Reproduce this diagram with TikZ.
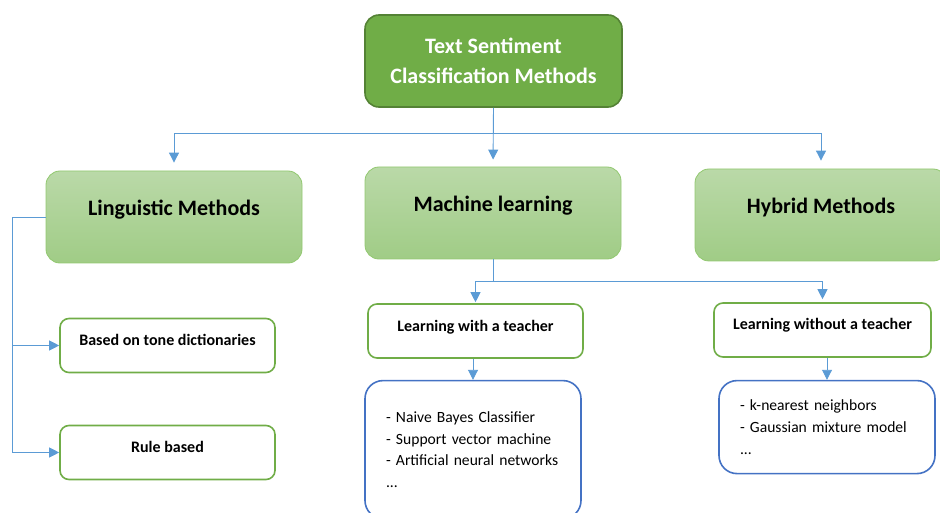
\documentclass[tikz,border=0pt]{standalone}
\usepackage{fontspec}
\setmainfont{Carlito}
\definecolor{rootgreen}{RGB}{112,173,71}
\definecolor{rootedge}{RGB}{84,130,53}
\definecolor{methtop}{RGB}{186,217,168}
\definecolor{methbot}{RGB}{160,204,134}
\definecolor{methedge}{RGB}{146,200,112}
\definecolor{subedge}{RGB}{112,173,71}
\definecolor{listedge}{RGB}{68,114,196}
\definecolor{linkblue}{RGB}{91,155,213}
\usetikzlibrary{arrows.meta, positioning}

\begin{document}
\begin{tikzpicture}[
  x=1pt, y=-1pt,
  root/.style={draw=rootedge, line width=1.6pt, fill=rootgreen, rounded corners=14pt,
               minimum width=257pt, minimum height=92pt, align=center, text=white,
               font=\fontsize{22}{30}\selectfont\bfseries},
  method/.style={draw=methedge, line width=0.8pt, top color=methtop, bottom color=methbot,
                 rounded corners=14pt, minimum width=256pt, minimum height=92pt,
                 text height=15pt, text depth=18.5pt, font=\fontsize{22}{26}\selectfont\bfseries},
  subm/.style={draw=subedge, line width=1.6pt, fill=white, rounded corners=9pt,
               minimum width=215pt, minimum height=54pt, text height=11pt, text depth=12pt,
               font=\fontsize{16}{19}\selectfont\bfseries},
  listbox/.style={draw=listedge, line width=1.6pt, fill=white, rounded corners=18pt,
                  text width=174pt, inner xsep=21pt, align=left,
                  font=\fontsize{15.6}{21.6}\selectfont},
  link/.style={draw=linkblue, line width=0.9pt},
  arr/.style={link, -{Triangle[length=10pt, width=10pt]}}
]
\useasboundingbox (0,0) rectangle (940,513);

\node[root] (root) at (493.5,61) {Text Sentiment\\Classification Methods};

\node[method] (ling) at (174,217) {Linguistic Methods};
\node[method] (ml) at (493,213) {Machine learning};
\node[method, minimum width=252pt] (hyb) at (821,215) {Hybrid Methods};

\node[subm] (tone) at (167.5,345.5) {Based on tone dictionaries};
\node[subm] (rule) at (167.5,452.5) {Rule based};
\node[subm, text depth=9.5pt] (wt) at (475.5,331) {Learning with a teacher};
\node[subm, minimum width=217pt, text depth=12.5pt] (wo) at (822.5,330) {Learning without a teacher};

\node[listbox, minimum height=138pt, below=21pt of wt, xshift=-2.5pt] (sup)
  {- Naive Bayes Classifier\\- Support vector machine\\- Artificial neural networks\\...};
\node[listbox, minimum height=93pt, below=22pt of wo, xshift=4.5pt] (unsup)
  {- k-nearest neighbors\\- Gaussian mixture model\\...};

% top level
\draw[arr, shorten >=8pt] (root.south) -- ++(0,26) -| (ling.north);
\draw[arr, shorten >=7pt] (root.south) -- (ml.north);
\draw[arr, shorten >=8pt] (root.south) -- ++(0,26) -| (hyb.north);

% linguistic branch
\draw[link] (ling.west) -- ++(-33,0) coordinate (lb) -- (lb |- rule.west);
\draw[arr] (lb |- tone.west) -- (tone.west);
\draw[arr] (lb |- rule.west) -- (rule.west);

% machine learning branch
\draw[arr, shorten >=1pt] (ml.south) -- ++(0,22) -| (wt.north);
\draw[arr, shorten >=3pt] (ml.south) -- ++(0,22) -| (wo.north);
\draw[arr] (sup.north |- wt.south) -- (sup.north);
\draw[arr] (unsup.north |- wo.south) -- (unsup.north);
\end{tikzpicture}
\end{document}
